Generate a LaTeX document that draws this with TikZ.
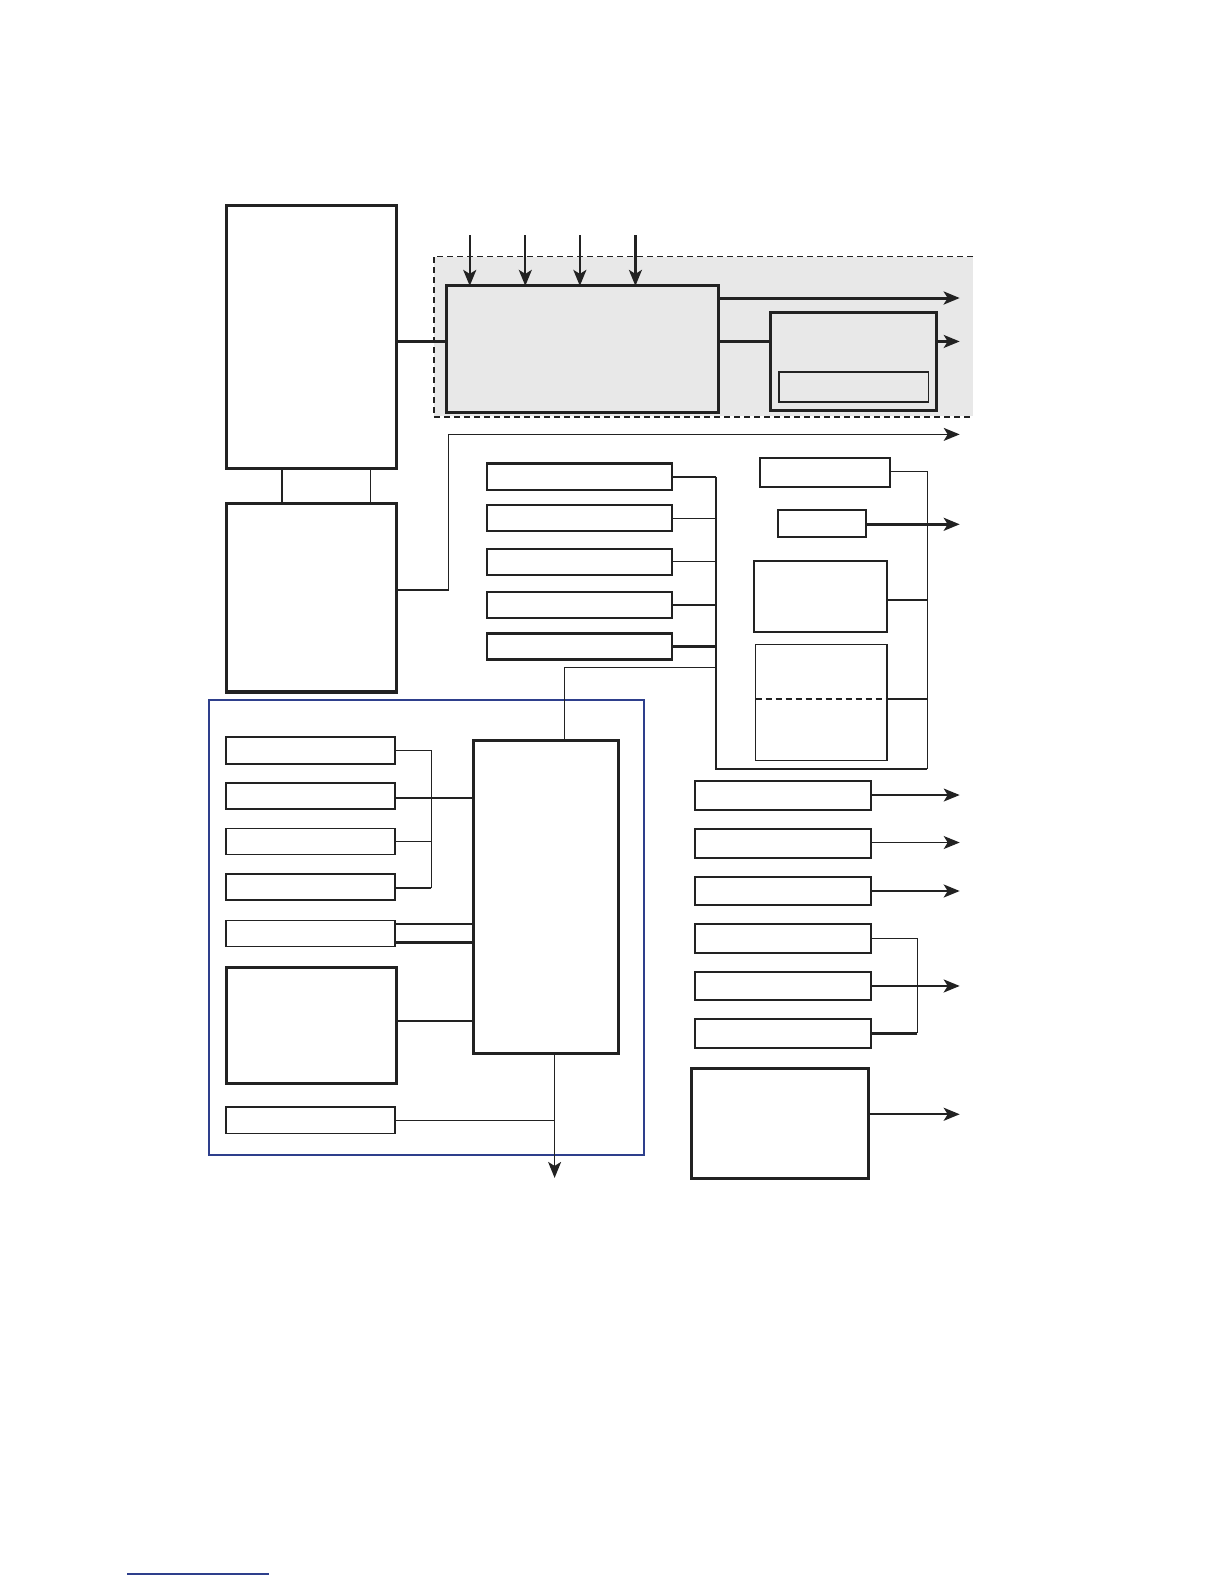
\documentclass[tikz,border=0pt]{standalone}
\usetikzlibrary{fit,arrows.meta,calc}
\definecolor{shade}{HTML}{E8E8E8}
\definecolor{frameblue}{HTML}{2E3F8C}
\definecolor{ink}{HTML}{222222}
\begin{document}
\begin{tikzpicture}[x=0.505pt,y=-0.505pt,
  every path/.style={ink},
  boxbase/.style={draw=ink, inner sep=0pt, outer sep=0pt},
  thickbox/.style={boxbase, line width=1.5pt},
  medbox/.style={boxbase, line width=1pt},
  thinbox/.style={boxbase, line width=0.8pt},
  conn/.style={draw=ink, line width=0.7pt},
  heavyconn/.style={draw=ink, line width=1.1pt},
  arr/.style={-{Stealth[length=8pt,width=6.5pt,inset=2pt]}},
]
\useasboundingbox (0,0) rectangle (1212,1568);

% shaded dashed zone
\node[fill=shade, inner sep=0pt, fit={(430,254) (963,412)}] (zone) {};
\draw[dashed, line width=0.6pt, dash pattern=on 3pt off 2pt] (zone.north east) -- (zone.north west) -- (zone.south west);
\draw[line width=1pt, dash pattern=on 3pt off 2pt] (zone.south west) -- (zone.south east);

% blue frame
\node[draw=frameblue, line width=1pt, inner sep=0pt, fit={(207,693) (637,1143)}] (frame) {};

% boxes
\node[thickbox, fit={(224,203) (392,464)}] (A) {};
\node[thickbox, fit={(224,498) (392,685)}] (B) {};
\node[thickbox, fill=shade, fit={(442,283) (711,408)}] (C) {};
\node[thickbox, fit={(763,309) (927,406)}] (D) {};
\node[thinbox, fit={(771,368) (919,398)}] (Din) {};

\node[boxbase, line width=1.25pt, fit={(482,459) (665,485)}] (M1) {};
\node[medbox, fit={(482,500) (665,526)}] (M2) {};
\node[medbox, fit={(482,543) (665,569)}] (M3) {};
\node[medbox, fit={(482,586) (665,612)}] (M4) {};
\node[boxbase, line width=1.25pt, fit={(482,627) (665,653)}] (M5) {};

\node[medbox, fit={(752,453) (881,482)}] (E) {};
\node[medbox, fit={(770,505) (857,532)}] (F) {};
\node[medbox, fit={(746,555) (878,626)}] (H) {};
\node[thinbox, fit={(748,638) (878,753)}] (I) {};

\node[thickbox, fit={(469,733) (612,1043)}] (G) {};
\node[medbox, fit={(224,730) (391,756)}] (L1) {};
\node[thinbox, fit={(224,775) (391,801)}] (L2) {};
\node[thinbox, fit={(224,820) (391,846)}] (L3) {};
\node[medbox, fit={(224,865) (391,891)}] (L4) {};
\node[thinbox, fit={(224,911) (391,937)}] (L5) {};
\node[thickbox, fit={(224,958) (392,1073)}] (J) {};
\node[thinbox, fit={(224,1096) (391,1122)}] (K) {};

\node[medbox, fit={(688,773) (862,802)}] (R1) {};
\node[medbox, fit={(688,821) (862,849)}] (R2) {};
\node[medbox, fit={(688,868) (862,896)}] (R3) {};
\node[medbox, fit={(688,915) (862,943)}] (R4) {};
\node[medbox, fit={(688,962) (862,990)}] (R5) {};
\node[medbox, fit={(688,1009) (862,1037)}] (R6) {};
\node[thickbox, fit={(685,1058) (860,1167)}] (Lb) {};

% free ends
\coordinate (t1) at (465,233);
\coordinate (t2) at (520,233);
\coordinate (t3) at (574,233);
\coordinate (t4) at (629,233);
\coordinate (o1) at (950,295);
\coordinate (o2) at (950,338);
\coordinate (o3) at (950,430);
\coordinate (o4) at (950,519);
\coordinate (o5) at (950,787);
\coordinate (o6) at (950,834);
\coordinate (o7) at (950,882);
\coordinate (o8) at (950,976);
\coordinate (o9) at (950,1103);
\coordinate (gout) at (549,1166);

% top connectors
\draw[conn] (A.south -| 279,0) -- (B.north -| 279,0);
\draw[conn] (A.south -| 367,0) -- (B.north -| 367,0);
\draw[heavyconn] (A.east |- 0,338) -- (C.west |- 0,338);
\foreach \t in {t1,t2,t3,t4}{
  \draw[heavyconn, arr] (\t) -- (C.north -| \t);
}
\draw[line width=1.5pt, arr] (C.east |- o1) -- (o1);
\draw[heavyconn] (C.east |- 0,338) -- (D.west |- 0,338);
\draw[heavyconn, arr] (D.east |- o2) -- (o2);
\draw[conn, arr] (B.east |- 0,584) -- (444,584) -- (444,430) -- (o3);

% middle bus
\draw[conn] (M1.east) -- (709,0 |- M1.east);
\draw[conn] (M2.east) -- (709,0 |- M2.east);
\draw[conn] (M3.east) -- (709,0 |- M3.east);
\draw[heavyconn] (M4.east) -- (709,0 |- M4.east);
\draw[heavyconn] (M5.east) -- (709,0 |- M5.east);
\draw[heavyconn] (709,472) -- (709,761) -- (918,761);
\draw[conn] (918,761) -- (918,467) -- (E.east |- 0,467);
\draw[conn] (709,661) -- (559,661) -- (G.north -| 559,0);
\draw[line width=1.3pt, arr] (F.east |- o4) -- (o4);
\draw[heavyconn] (H.east |- 0,594) -- (918,594);
\draw[conn, dashed, dash pattern=on 3pt off 2pt] (I.west |- 0,692) -- (I.east |- 0,692);
\draw[conn] (I.east |- 0,692) -- (918,692);

% left group
\draw[conn] (L1.east) -- (427,0 |- L1.east) -- (427,879);
\draw[heavyconn] (427,879) -- (L4.east |- 0,879);
\draw[conn] (L3.east) -- (427,0 |- L3.east);
\draw[conn] (L2.east |- 0,790) -- (G.west |- 0,790);
\draw[heavyconn] (L5.east |- 0,915) -- (G.west |- 0,915);
\draw[heavyconn] (L5.east |- 0,933) -- (G.west |- 0,933);
\draw[heavyconn] (J.east |- 0,1011) -- (G.west |- 0,1011);
\draw[conn] (K.east) -- (549,0 |- K.east);
\draw[conn, arr] (G.south -| gout) -- (gout);

% right column
\draw[conn, arr] (R1.east |- o5) -- (o5);
\draw[conn, arr] (R2.east |- o6) -- (o6);
\draw[heavyconn, arr] (R3.east |- o7) -- (o7);
\draw[conn] (R4.east) -- (908,0 |- R4.east) -- (908,1023);
\draw[heavyconn] (908,1023) -- (R6.east |- 0,1023);
\draw[heavyconn, arr] (R5.east |- o8) -- (o8);
\draw[heavyconn, arr] (Lb.east |- o9) -- (o9);

% footnote rule
\coordinate (fn1) at (126,1558);
\coordinate (fn2) at (266,1558);
\draw[draw=frameblue, line width=0.8pt] (fn1) -- (fn2);
\end{tikzpicture}
\end{document}
